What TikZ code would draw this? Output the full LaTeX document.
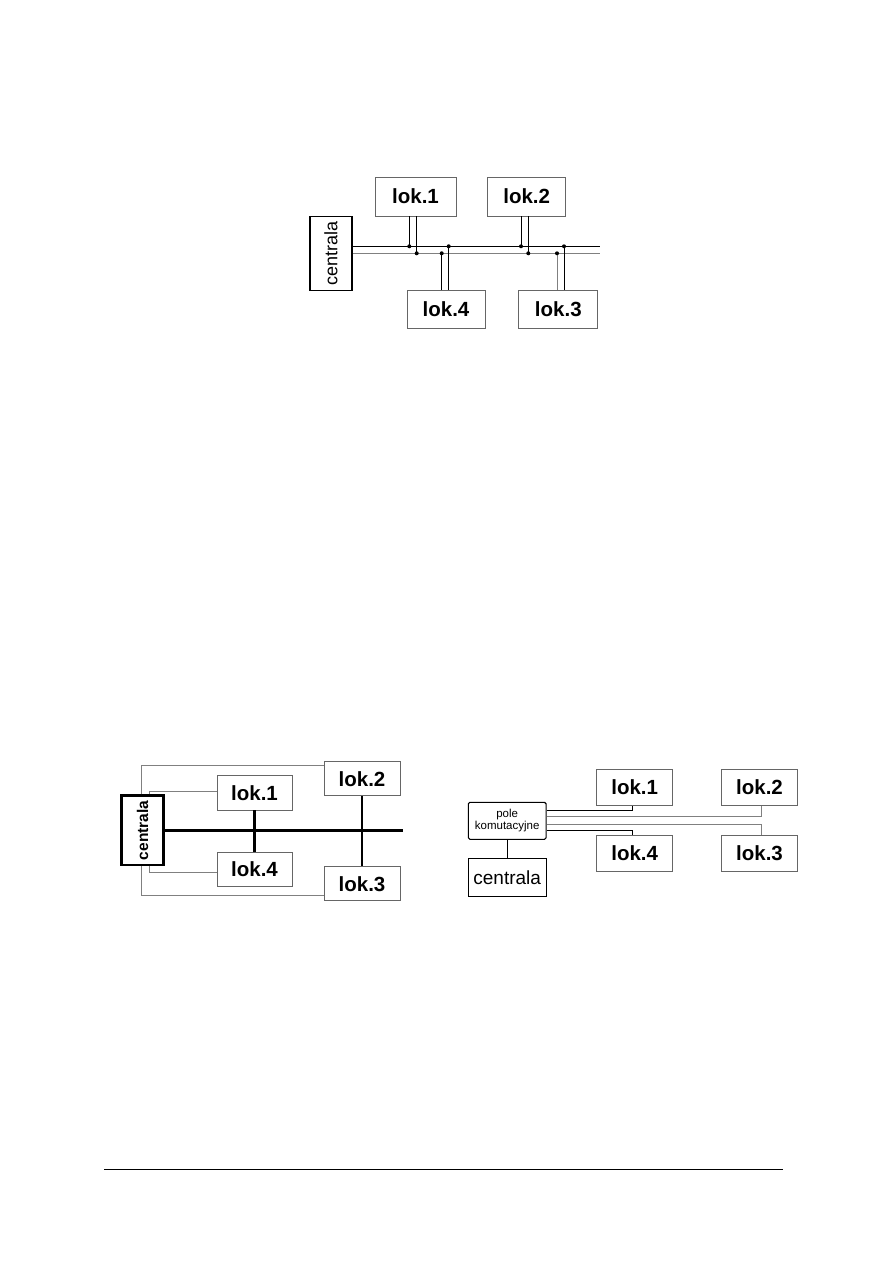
\documentclass[tikz,border=0pt]{standalone}
\usepackage{fontspec}
\setmainfont{Liberation Sans}
\tikzset{
  lok/.style={draw=black!60, line width=0.8pt, inner sep=0pt, minimum width=#1,
    font=\fontsize{20.5}{20}\selectfont\bfseries},
  lok/.default=77,
  box/.style={draw=black, inner sep=0pt},
  wire/.style={line width=0.9pt},
  gwire/.style={line width=0.9pt, black!50},
}
\begin{document}
\begin{tikzpicture}[x=1pt, y=-1pt]
  \useasboundingbox (0,0) rectangle (893,1263);
  % ---- magistrala
  \node[box, line width=1.3pt, minimum width=42, minimum height=74] (c1) at (331,253.7)
    {\rotatebox{90}{\fontsize{18}{18}\selectfont centrala}};
  \node[lok=81, minimum height=39] (a1) at (415.5,196.5) {lok.1};
  \node[lok=78, minimum height=39] (a2) at (526.7,196.5) {lok.2};
  \node[lok=78, minimum height=37.5] (a4) at (446,309.5) {lok.4};
  \node[lok=79, minimum height=37.5] (a3) at (558.3,309.5) {lok.3};
  \coordinate (bt) at (600,246.3);
  \coordinate (bb) at (600,253.3);
  \draw[wire] (c1.east |- bt) -- (bt);
  \draw[gwire] (c1.east |- bb) -- (bb);
  \coordinate (d11) at (409.3,246.3);
  \coordinate (d12) at (416.7,253.3);
  \coordinate (d41) at (441.7,253.3);
  \coordinate (d42) at (448.7,246.3);
  \coordinate (d21) at (521,246.3);
  \coordinate (d22) at (528.3,253.3);
  \coordinate (d31) at (557,253.3);
  \coordinate (d32) at (564,246.3);
  \draw[wire] (d11) -- (d11 |- a1.south);
  \draw[wire] (d12) -- (d12 |- a1.south);
  \draw[wire] (d21) -- (d21 |- a2.south);
  \draw[wire] (d22) -- (d22 |- a2.south);
  \draw[wire] (d41) -- (d41 |- a4.north);
  \draw[wire] (d42) -- (d42 |- a4.north);
  \draw[gwire] (d31) -- (d31 |- a3.north);
  \draw[wire] (d32) -- (d32 |- a3.north);
  \foreach \d in {d11,d12,d21,d22,d41,d42,d31,d32}
    \fill (\d) circle (2);

  % ---- pierscien
  \node[box, line width=2.6pt, minimum width=41.6, minimum height=69.3] (c2) at (142.5,830.4)
    {\rotatebox{90}{\fontsize{15.5}{15.5}\selectfont\bfseries centrala}};
  \node[lok=75, minimum height=34.3] (b1) at (254.5,792.8) {lok.1};
  \node[lok=76, minimum height=34] (b2) at (362,778.7) {lok.2};
  \node[lok=75, minimum height=34.4] (b4) at (254.5,869.5) {lok.4};
  \node[lok=76, minimum height=34] (b3) at (362,883.7) {lok.3};
  \coordinate (be) at (403,830.7);
  \draw[line width=2.6pt] (c2.east |- be) -- (be);
  \draw[line width=2.6pt] (b1.south) -- (b4.north);
  \draw[line width=2.6pt] (b2.south) -- (b3.north);
  \coordinate (o1) at (141.7,765);
  \coordinate (i1) at (149,791.7);
  \coordinate (o2) at (141.7,895.7);
  \coordinate (i2) at (149,872.3);
  \draw[gwire] (c2.north -| o1) |- (b2.west |- o1);
  \draw[gwire] (c2.north -| i1) |- (b1.west |- i1);
  \draw[gwire] (c2.south -| o2) |- (b3.west |- o2);
  \draw[gwire] (c2.south -| i2) |- (b4.west |- i2);

  % ---- gwiazda
  \node[box, line width=1.1pt, rounded corners=1.5pt, minimum width=77.7, minimum height=37,
    align=center, font=\fontsize{11.5}{12}\selectfont] (p3) at (507.2,820.8) {pole\\komutacyjne};
  \node[box, line width=1.1pt, minimum width=77.7, minimum height=38.4,
    font=\fontsize{19}{19}\selectfont] (c3) at (507.2,877.5) {centrala};
  \node[lok=76, minimum height=36.4] (e1) at (634.7,787.5) {lok.1};
  \node[lok=76, minimum height=36.4] (e2) at (759.5,787.5) {lok.2};
  \node[lok=76, minimum height=36] (e4) at (634.7,853) {lok.4};
  \node[lok=76, minimum height=36] (e3) at (759.5,853) {lok.3};
  \draw[wire] (p3.south) -- (c3.north);
  \coordinate (k1) at (632.7,810.7);
  \coordinate (k2) at (761,816.7);
  \coordinate (k3) at (761,824.3);
  \coordinate (k4) at (632.7,830.7);
  \draw[wire] (p3.east |- k1) -| (e1.south -| k1);
  \draw[gwire] (p3.east |- k2) -| (e2.south -| k2);
  \draw[gwire] (p3.east |- k3) -| (e3.north -| k3);
  \draw[wire] (p3.east |- k4) -| (e4.north -| k4);

  % ---- stopka
  \draw[line width=1pt] (104,1169.3) -- (782.7,1169.3);
\end{tikzpicture}
\end{document}
